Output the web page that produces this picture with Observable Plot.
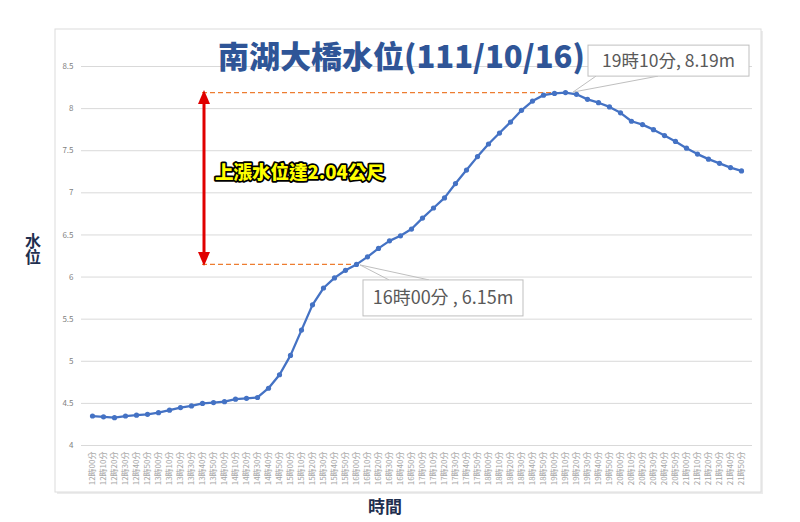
<!DOCTYPE html>
<html><head><meta charset="utf-8">
<script src="https://cdn.jsdelivr.net/npm/d3@7"></script>
<script src="https://cdn.jsdelivr.net/npm/@observablehq/plot@0.6"></script>
<style>html,body{margin:0;padding:0;background:#fff;} svg{display:block}</style>
</head><body><div id="chart"></div>
<script>
const times = [
 "12時00分","12時10分","12時20分","12時30分","12時40分","12時50分",
 "13時00分","13時10分","13時20分","13時30分","13時40分","13時50分",
 "14時00分","14時10分","14時20分","14時30分","14時40分","14時50分",
 "15時00分","15時10分","15時20分","15時30分","15時40分","15時50分",
 "16時00分","16時10分","16時20分","16時30分","16時40分","16時50分",
 "17時00分","17時10分","17時20分","17時30分","17時40分","17時50分",
 "18時00分","18時10分","18時20分","18時30分","18時40分","18時50分",
 "19時00分","19時10分","19時20分","19時30分","19時40分","19時50分",
 "20時00分","20時10分","20時20分","20時30分","20時40分","20時50分",
 "21時00分","21時10分","21時20分","21時30分","21時40分","21時50分"
];
const levels = [
 4.35,4.34,4.33,4.35,4.36,4.37,
 4.39,4.42,4.45,4.47,4.50,4.51,
 4.52,4.55,4.56,4.57,4.68,4.84,
 5.07,5.37,5.67,5.87,5.99,6.08,
 6.15,6.24,6.34,6.43,6.49,6.57,
 6.70,6.82,6.94,7.11,7.27,7.43,
 7.58,7.71,7.84,7.98,8.09,8.16,
 8.18,8.19,8.17,8.11,8.07,8.02,
 7.95,7.85,7.81,7.75,7.68,7.61,
 7.53,7.46,7.40,7.35,7.30,7.26
];
const yTicks = [4,4.5,5,5.5,6,6.5,7,7.5,8,8.5];
const title = "南湖大橋水位(111/10/16)";
const yLabel = "水位";
const xLabel = "時間";
const riseText = "上漲水位達2.04公尺";
const lowIdx = 24, peakIdx = 43, refIdx = 10;
const calloutLow = "16時00分 , 6.15m";
const calloutHigh = "19時10分, 8.19m";

const data = times.map((t, i) => ({t, v: levels[i]}));
const refLines = [
  {y: levels[peakIdx], x1: times[refIdx], x2: times[peakIdx]},
  {y: levels[lowIdx], x1: times[refIdx], x2: times[lowIdx]}
];
const font = "'Noto Sans CJK TC','Noto Sans',sans-serif";

const plot = Plot.plot({
  width: 800, height: 522,
  marginLeft: 81, marginRight: 48, marginTop: 66, marginBottom: 77,
  style: {fontFamily: font, background: "transparent", overflow: "visible"},
  x: {type: "point", domain: times, padding: 0.5},
  y: {domain: [4, 8.5]},
  marks: [
    Plot.gridY(yTicks, {stroke: "#d9d9d9", strokeOpacity: 1, strokeWidth: 1}),
    Plot.axisY(yTicks, {tickSize: 0, tickPadding: 8, fontSize: 8, color: "#7f7f7f", label: null, tickFormat: d => String(d)}),
    Plot.axisX({tickRotate: -90, tickSize: 0, tickPadding: 6, fontSize: 8, color: "#a6a6a6", label: null}),
    Plot.ruleY(refLines, {y: "y", x1: "x1", x2: "x2", stroke: "#ED7D31", strokeDasharray: "5,3", strokeWidth: 1.2}),
    Plot.line(data, {x: "t", y: "v", stroke: "#4472C4", strokeWidth: 2.3}),
    Plot.dot(data, {x: "t", y: "v", r: 2.6, fill: "#4472C4"})
  ]
});

document.getElementById("chart").appendChild(plot);

const svg = d3.select(plot);
const xs = plot.scale("x"), ys = plot.scale("y");
const X = t => xs.apply(t), Y = v => ys.apply(v);

// card background
const card = svg.insert("g", ":first-child");
card.append("rect").attr("x", 57).attr("y", 31).attr("width", 706).attr("height", 463).attr("fill", "#ececec");
card.append("rect").attr("x", 55).attr("y", 29).attr("width", 706).attr("height", 463).attr("fill", "#fff").attr("stroke", "#dcdcdc");

const layer = svg.append("g").attr("font-family", font).attr("text-anchor", "start");

// title
layer.append("text").attr("x", 218).attr("y", 57).attr("dy", "0.36em").attr("text-anchor", "start")
  .attr("font-size", 31).attr("font-weight", 900).attr("fill", "#2F5597").text(title);

// y label, vertical
layer.append("text").attr("x", 33).attr("y", 249).attr("text-anchor", "middle")
  .attr("writing-mode", "tb").style("writing-mode", "vertical-rl")
  .attr("font-size", 16).attr("font-weight", 700).attr("fill", "#1F2F4F").text(yLabel);
// x label
layer.append("text").attr("x", 385).attr("y", 507).attr("dy", "0.36em").attr("text-anchor", "middle")
  .attr("font-size", 17).attr("font-weight", 700).attr("fill", "#1F2F4F").text(xLabel);

// red double arrow
const ax = X(times[refIdx]) + 2;
const yHi = Y(levels[peakIdx]) - 2, yLo = Y(levels[lowIdx]) + 2;
const red = "#E00000";
layer.append("line").attr("x1", ax).attr("x2", ax).attr("y1", yHi + 12).attr("y2", yLo - 12).attr("stroke", red).attr("stroke-width", 3);
layer.append("path").attr("d", `M${ax},${yHi} L${ax - 6},${yHi + 14} L${ax + 6},${yHi + 14} Z`).attr("fill", red);
layer.append("path").attr("d", `M${ax},${yLo} L${ax - 6},${yLo - 14} L${ax + 6},${yLo - 14} Z`).attr("fill", red);

// rise text
layer.append("text").attr("x", ax + 11).attr("y", (yHi + yLo) / 2 - 6).attr("dy", "0.36em").attr("text-anchor", "start")
  .attr("font-size", 18.5).attr("font-weight", 900).attr("fill", "#FFFF00")
  .attr("stroke", "#000").attr("stroke-width", 3.5).attr("paint-order", "stroke").attr("stroke-linejoin", "round")
  .text(riseText);

// callouts
function callout(px, py, bx, by, bw, bh, b1, b2, label, fs) {
  const g = layer.append("g");
  const baseY = by < py ? by + bh : by;
  g.append("path").attr("d", `M${bx + b1},${baseY} L${px},${py} L${bx + b2},${baseY}`)
    .attr("fill", "none").attr("stroke", "#bfbfbf").attr("stroke-width", 1);
  g.append("rect").attr("x", bx).attr("y", by).attr("width", bw).attr("height", bh)
    .attr("fill", "#fff").attr("stroke", "#bfbfbf");
  g.append("text").attr("x", bx + bw / 2).attr("y", by + bh / 2).attr("dy", "0.36em").attr("text-anchor", "middle")
    .attr("font-size", fs).attr("fill", "#595959").text(label);
}
const hx = X(times[peakIdx]), hy = Y(levels[peakIdx]);
callout(hx + 8, hy, hx + 23, hy - 47, 161, 31, 8, 70, calloutHigh, 17.5);
const lx = X(times[lowIdx]), ly = Y(levels[lowIdx]);
callout(lx + 4, ly + 1, lx + 7, ly + 16, 160, 36, 26, 66, calloutLow, 18);
</script>
</body></html>
